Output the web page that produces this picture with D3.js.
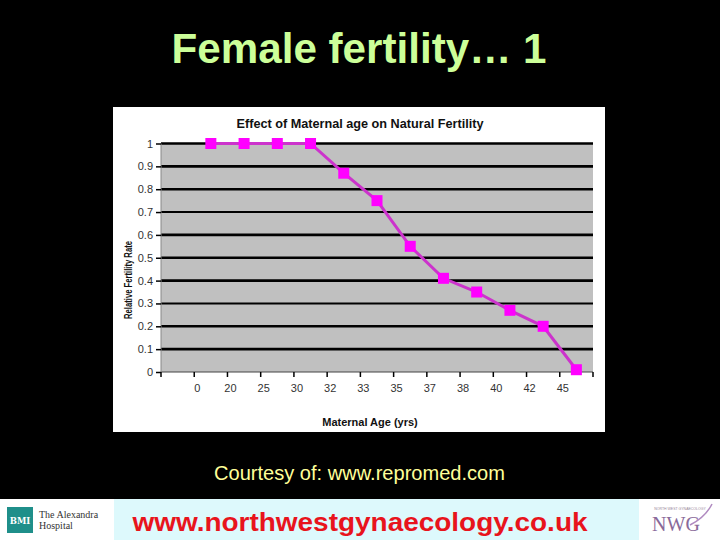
<!DOCTYPE html>
<html><head><meta charset="utf-8">
<script src="https://cdn.jsdelivr.net/npm/d3@7"></script>
<style>html,body{margin:0;padding:0;background:#000;}svg{display:block;}</style>
</head><body>
<svg id="c" width="720" height="540"></svg>
<script>
const ageLabels = ["0","20","25","30","32","33","35","37","38","40","42","45"];
const fertility = [1, 1, 1, 1, 0.87, 0.75, 0.55, 0.41, 0.35, 0.27, 0.20, 0.01];
const yTicks = [0, 0.1, 0.2, 0.3, 0.4, 0.5, 0.6, 0.7, 0.8, 0.9, 1];
const yTickLabels = ["0","0.1","0.2","0.3","0.4","0.5","0.6","0.7","0.8","0.9","1"];

const svg = d3.select("#c");
svg.append("rect").attr("width",720).attr("height",540).attr("fill","#000");

// Main title
svg.append("text").attr("x",359).attr("y",63).attr("text-anchor","middle")
  .attr("font-family","Liberation Sans, Arial, sans-serif").attr("font-weight","bold")
  .attr("font-size",42).attr("fill","#ccff99").attr("textLength",375).attr("lengthAdjust","spacingAndGlyphs")
  .text("Female fertility\u2026 1");

// Chart panel
svg.append("rect").attr("x",113).attr("y",107).attr("width",492).attr("height",325).attr("fill","#fff");

const L=161, R=593, T=143.5, B=372;
const x = d3.scaleLinear().domain([0, ageLabels.length+1]).range([L,R]);
const y = d3.scaleLinear().domain([0,1]).range([B,T]);

svg.append("rect").attr("x",L).attr("y",T).attr("width",R-L).attr("height",B-T).attr("fill","#c0c0c0");

// gridlines
svg.append("g").selectAll("line").data(yTicks.filter(d=>d>0)).join("line")
  .attr("x1",L).attr("x2",R).attr("y1",d=>y(d)).attr("y2",d=>y(d))
  .attr("stroke","#000").attr("stroke-width",d=>(Math.round(d*10)%4===3)?2:2.6);

// axis lines
svg.append("line").attr("x1",L).attr("x2",R).attr("y1",B).attr("y2",B).attr("stroke","#444").attr("stroke-width",1);
svg.append("line").attr("x1",L).attr("x2",L).attr("y1",T).attr("y2",B).attr("stroke","#888").attr("stroke-width",1);

// y ticks
const yAxis = d3.axisLeft(y).tickValues(yTicks).tickSize(5).tickPadding(3)
  .tickFormat((d,i)=>yTickLabels[i]);
const gy = svg.append("g").attr("transform",`translate(${L},0)`).call(yAxis);
gy.select(".domain").remove();
gy.selectAll("line").attr("stroke","#000").attr("stroke-width",1.5);
gy.selectAll("text").attr("font-family","Liberation Sans, Arial, sans-serif").attr("font-size",11).attr("fill","#333");

// x ticks at boundaries
const xb = d3.range(0, ageLabels.length+2);
svg.append("g").selectAll("line").data(xb).join("line")
  .attr("x1",d=>x(d)).attr("x2",d=>x(d)).attr("y1",B).attr("y2",B+5)
  .attr("stroke","#000").attr("stroke-width",1.5);
svg.append("g").selectAll("text").data(ageLabels).join("text")
  .attr("x",(d,i)=>x(i+1)+3).attr("y",392).attr("text-anchor","middle")
  .attr("font-family","Liberation Sans, Arial, sans-serif").attr("font-size",11).attr("fill","#333")
  .text(d=>d);

// line + markers
const line = d3.line().x((d,i)=>x(i+1.5)).y(d=>y(d));
svg.append("path").datum(fertility).attr("d",line).attr("fill","none")
  .attr("stroke","#cc33cc").attr("stroke-width",3);
svg.append("g").selectAll("rect").data(fertility).join("rect")
  .attr("x",(d,i)=>x(i+1.5)-5.5).attr("y",d=>y(d)-5.5).attr("width",11).attr("height",11)
  .attr("fill","#ff00ff");

// chart title
svg.append("text").attr("x",360).attr("y",128).attr("text-anchor","middle")
  .attr("font-family","Liberation Sans, Arial, sans-serif").attr("font-weight","bold")
  .attr("font-size",12).attr("fill","#111").attr("textLength",247).attr("lengthAdjust","spacingAndGlyphs")
  .text("Effect of Maternal age on Natural Fertility");

// x title
svg.append("text").attr("x",370).attr("y",426).attr("text-anchor","middle")
  .attr("font-family","Liberation Sans, Arial, sans-serif").attr("font-weight","bold")
  .attr("font-size",11).attr("fill","#111").text("Maternal Age (yrs)");

// y title
svg.append("text").attr("transform","translate(132,280) rotate(-90)").attr("text-anchor","middle")
  .attr("font-family","Liberation Sans, Arial, sans-serif").attr("font-weight","bold")
  .attr("font-size",10).attr("fill","#111").attr("textLength",78).attr("lengthAdjust","spacingAndGlyphs")
  .text("Relative Fertility Rate");

// courtesy
svg.append("text").attr("x",359.5).attr("y",480).attr("text-anchor","middle")
  .attr("font-family","Liberation Sans, Arial, sans-serif").attr("font-size",19.5)
  .attr("fill","#ffff99").attr("textLength",291).attr("lengthAdjust","spacingAndGlyphs")
  .text("Courtesy of: www.repromed.com");

// footer
svg.append("rect").attr("x",0).attr("y",499).attr("width",720).attr("height",41).attr("fill","#fff");
svg.append("rect").attr("x",114).attr("y",499).attr("width",525).attr("height",41).attr("fill","#ddf9fc");
svg.append("text").attr("x",360).attr("y",531).attr("text-anchor","middle")
  .attr("font-family","Liberation Sans, Arial, sans-serif").attr("font-weight","bold")
  .attr("font-size",26).attr("fill","#e8141c").attr("textLength",455).attr("lengthAdjust","spacingAndGlyphs")
  .text("www.northwestgynaecology.co.uk");

// left logo
svg.append("rect").attr("x",7).attr("y",507).attr("width",26).attr("height",26).attr("fill","#1f8f8a");
svg.append("text").attr("x",20).attr("y",524).attr("text-anchor","middle")
  .attr("font-family","DejaVu Serif, serif").attr("font-weight","bold").attr("font-size",8.5).attr("fill","#fff").text("BMI");
svg.append("text").attr("x",39).attr("y",518).attr("font-family","Liberation Serif, serif")
  .attr("font-size",10).attr("fill","#333").text("The Alexandra");
svg.append("text").attr("x",39).attr("y",529).attr("font-family","Liberation Serif, serif")
  .attr("font-size",10).attr("fill","#333").text("Hospital");

// right logo
svg.append("text").attr("x",680).attr("y",510).attr("text-anchor","middle")
  .attr("font-family","Liberation Sans, sans-serif").attr("font-size",3.5).attr("fill","#998899").text("NORTH WEST GYNAECOLOGY");
svg.append("text").attr("x",676).attr("y",531).attr("text-anchor","middle")
  .attr("font-family","Liberation Serif, serif").attr("font-size",20).attr("fill","#8a6a9a").text("NWG");
svg.append("path").attr("d","M690,525 C700,520 708,512 712,504").attr("fill","none").attr("stroke","#b08ac0").attr("stroke-width",1.5);
</script>
</body></html>
